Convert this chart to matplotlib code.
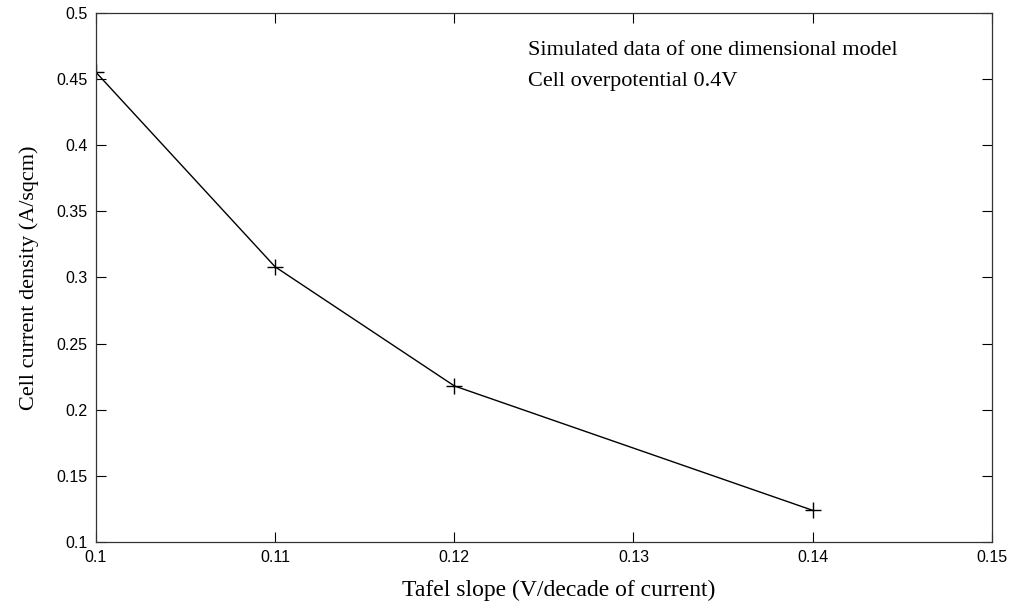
import numpy as np
import matplotlib.pyplot as plt

tafel = [0.10, 0.11, 0.12, 0.14]
current = [0.455, 0.308, 0.218, 0.124]
xticks = [0.1, 0.11, 0.12, 0.13, 0.14, 0.15]
yticks = [0.1, 0.15, 0.2, 0.25, 0.3, 0.35, 0.4, 0.45, 0.5]

fig = plt.figure(figsize=(10.1, 6.05), dpi=100)
ax = fig.add_axes([0.095, 0.104, 0.887, 0.875])

ax.plot(tafel, current, color='black', lw=1.0, marker='+', ms=11, mew=1.0)

ax.set_xlim(0.1, 0.15)
ax.set_ylim(0.1, 0.5)
ax.set_xticks(xticks)
ax.set_yticks(yticks)
ax.set_xticklabels([f'{v:g}' for v in xticks], family='Liberation Sans', fontsize=11.5)
ax.set_yticklabels([f'{v:g}' for v in yticks], family='Liberation Sans', fontsize=11.5)
ax.tick_params(direction='in', length=7, width=0.8, top=True, right=True, pad=6)
for s in ax.spines.values():
    s.set_linewidth(0.9)
    s.set_color('#333333')

ax.set_xlabel('Tafel slope (V/decade of current)', family='Liberation Serif', fontsize=17)
ax.set_ylabel('Cell current density (A/sqcm)', family='Liberation Serif', fontsize=16)
ax.xaxis.set_label_coords(0.516, -0.072)
ax.yaxis.set_label_coords(-0.064, 0.5)

ax.text(0.482, 0.921, 'Simulated data of one dimensional model', transform=ax.transAxes,
        family='Liberation Serif', fontsize=16)
ax.text(0.482, 0.862, 'Cell overpotential 0.4V', transform=ax.transAxes,
        family='Liberation Serif', fontsize=16)

fig.savefig('out.png', dpi=100)
